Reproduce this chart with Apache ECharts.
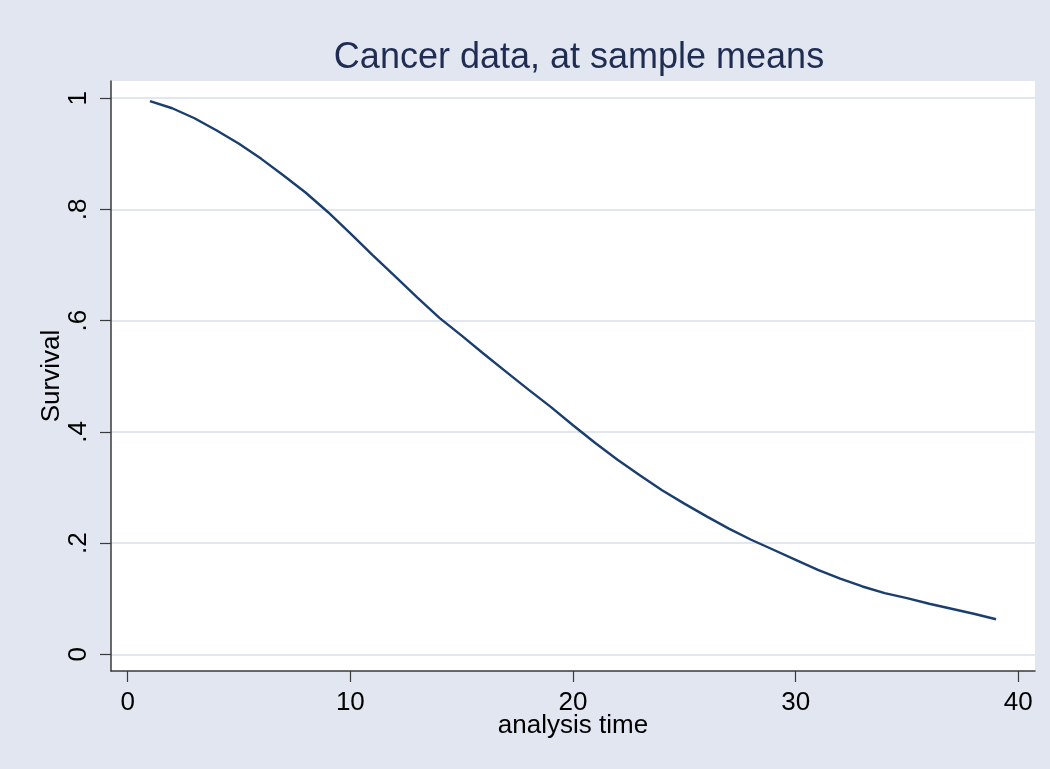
<!DOCTYPE html>
<html>
<head>
<meta charset="utf-8">
<title>Cancer data, at sample means</title>
<script src="https://cdn.jsdelivr.net/npm/echarts@6/dist/echarts.min.js"></script>
<style>
  html, body { margin: 0; padding: 0; background: #E1E6F0; }
  #chart { width: 1050px; height: 769px; }
</style>
</head>
<body>
<div id="chart"></div>
<script>
// Predicted survival curve at sample means (analysis time 1..39)
const analysisTime = [1, 2, 3, 4, 5, 6, 7, 8, 9, 10,
  11, 12, 13, 14, 15, 16, 17, 18, 19, 20,
  21, 22, 23, 24, 25, 26, 27, 28, 29, 30,
  31, 32, 33, 34, 35, 36, 37, 38, 39];
const survival = [0.995, 0.982, 0.964, 0.942, 0.918, 0.891, 0.861, 0.830, 0.795, 0.757,
  0.718, 0.680, 0.642, 0.605, 0.573, 0.540, 0.508, 0.476, 0.445, 0.412,
  0.380, 0.350, 0.322, 0.295, 0.271, 0.248, 0.226, 0.206, 0.188, 0.170,
  0.152, 0.136, 0.122, 0.110, 0.101, 0.091, 0.082, 0.073, 0.063];

const xTickValues = [0, 10, 20, 30, 40];
const yTickValues = [0, 0.2, 0.4, 0.6, 0.8, 1];
const yTickLabels = ['0', '.2', '.4', '.6', '.8', '1'];

const titleText = 'Cancer data, at sample means';
const xTitle = 'analysis time';
const yTitle = 'Survival';

const FONT = '"Liberation Sans", Arial, Helvetica, sans-serif';
const BG = '#E1E6F0';
const NAVY = '#1A3E6E';

const chart = echarts.init(document.getElementById('chart'), null, { renderer: 'canvas' });

chart.setOption({
  backgroundColor: BG,
  animation: false,
  title: {
    text: titleText,
    left: 579,
    textAlign: 'center',
    top: 40,
    padding: 0,
    textStyle: { fontFamily: FONT, fontSize: 36, fontWeight: 'normal', color: '#1F2D52' }
  },
  grid: {
    left: 111, top: 81, right: 15, bottom: 98,
    show: true, backgroundColor: '#ffffff', borderWidth: 0,
    containLabel: false
  },
  xAxis: {
    type: 'value',
    min: -0.75, max: 40.75,
    name: xTitle,
    nameLocation: 'middle',
    nameGap: 42,
    nameMoveOverlap: false,
    nameTextStyle: { fontFamily: FONT, fontSize: 26, color: '#000' },
    axisLine: { show: true, onZero: false, lineStyle: { color: '#3a3a3a', width: 1.5 } },
    axisTick: { show: true, inside: false, length: 11, customValues: xTickValues,
      lineStyle: { color: '#3a3a3a', width: 1.2 } },
    axisLabel: { customValues: xTickValues, margin: 19, fontFamily: FONT, fontSize: 26, color: '#000',
      showMinLabel: true, showMaxLabel: true },
    splitLine: { show: false }
  },
  yAxis: {
    type: 'value',
    min: -0.03, max: 1.031,
    name: yTitle,
    nameLocation: 'middle',
    nameGap: 46,
    nameMoveOverlap: false,
    nameTextStyle: { fontFamily: FONT, fontSize: 26, color: '#000' },
    axisLine: { show: true, onZero: false, lineStyle: { color: '#3a3a3a', width: 1.5 } },
    axisTick: { show: true, inside: false, length: 11, customValues: yTickValues,
      lineStyle: { color: '#3a3a3a', width: 1.2 } },
    axisLabel: {
      customValues: yTickValues,
      rotate: 90, margin: 19,
      fontFamily: FONT, fontSize: 26, color: '#000',
      formatter: function (v) {
        const i = yTickValues.findIndex(t => Math.abs(t - v) < 1e-9);
        return i >= 0 ? yTickLabels[i] : '';
      }
    },
    splitLine: { show: true, lineStyle: { color: '#E1E6F0', width: 2 } }
  },
  series: [{
    type: 'line',
    data: analysisTime.map((t, i) => [t, survival[i]]),
    showSymbol: false,
    symbol: 'none',
    smooth: false,
    lineStyle: { color: NAVY, width: 2.4 },
    z: 3
  }]
});
</script>
</body>
</html>
